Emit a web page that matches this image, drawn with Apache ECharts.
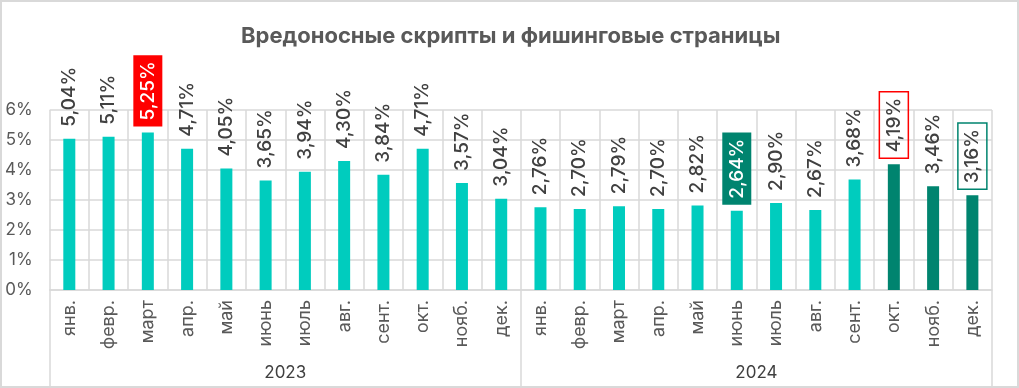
<!DOCTYPE html>
<html><head><meta charset="utf-8">
<script src="https://cdn.jsdelivr.net/npm/echarts@6/dist/echarts.min.js"></script>
<style>
html,body{margin:0;padding:0;background:#fff}
#wrap{position:absolute;left:0;top:0;width:1019px;height:388px;box-sizing:border-box;border:2px solid #d9d9d9;}
#c{width:100%;height:100%}
</style></head>
<body><div id="wrap"><div id="c"></div></div>
<script>
const titleText = 'Вредоносные скрипты и фишинговые страницы';
const years = ['2023', '2024'];
const months = ['янв.', 'февр.', 'март', 'апр.', 'май', 'июнь', 'июль', 'авг.', 'сент.', 'окт.', 'нояб.', 'дек.'];
const values2023 = [5.04, 5.11, 5.25, 4.71, 4.05, 3.65, 3.94, 4.30, 3.84, 4.71, 3.57, 3.04];
const values2024 = [2.76, 2.70, 2.79, 2.70, 2.82, 2.64, 2.90, 2.67, 3.68, 4.19, 3.46, 3.16];
const yTicks = [0, 1, 2, 3, 4, 5, 6];

const TURQ = '#00CCBE';
const DARK = '#00846F';
const RED = '#FF0000';
const GRID = '#d9d9d9';
const TXT = '#404040';
const FONT = 'Inter, "Noto Sans", sans-serif';

const categories = years.flatMap(() => months);
const values = values2023.concat(values2024);
const darkIdx = [21, 22, 23];
const labelStyles = {
  2: {backgroundColor: RED, color: '#fff'},
  17: {backgroundColor: DARK, color: '#fff'},
  21: {borderColor: RED, borderWidth: 1.5},
  23: {borderColor: DARK, borderWidth: 1.5}
};
const fmt = v => v.toFixed(2).replace('.', ',') + '%';

const data = values.map((v, i) => {
  const item = {value: v, itemStyle: {color: darkIdx.includes(i) ? DARK : TURQ}};
  if (labelStyles[i]) item.label = Object.assign({}, labelStyles[i]);
  return item;
});

const chart = echarts.init(document.getElementById('c'));
chart.setOption({
  animation: false,
  textStyle: {fontFamily: FONT},
  title: {
    text: titleText, left: 234, top: 18,
    textStyle: {fontSize: 22, fontWeight: 'bold', color: '#595959', fontFamily: FONT}
  },
  grid: {left: 46, right: 25, top: 108, bottom: 96, containLabel: false},
  xAxis: [{
    type: 'category', data: categories,
    axisLine: {lineStyle: {color: GRID, width: 1.5}},
    axisTick: {show: false},
    splitLine: {show: true, interval: 0, lineStyle: {color: GRID, width: 1.5}},
    axisLabel: {interval: 0, rotate: 90, margin: 10, fontSize: 18, color: '#595959', fontFamily: FONT}
  }, {
    type: 'category', data: years, position: 'bottom',
    axisLine: {show: false},
    axisTick: {show: true, length: 96, lineStyle: {color: GRID, width: 1.5}},
    splitLine: {show: false},
    axisLabel: {margin: 74, fontSize: 17, color: TXT, fontFamily: FONT}
  }],
  yAxis: {
    type: 'value', min: yTicks[0], max: yTicks[yTicks.length - 1], interval: 1,
    axisLine: {show: false}, axisTick: {show: false},
    splitLine: {lineStyle: {color: GRID, width: 1.5}},
    axisLabel: {formatter: '{value}%', fontSize: 17, color: '#595959', margin: 17, fontFamily: FONT}
  },
  series: [{
    type: 'bar', xAxisIndex: 0, data: data, barWidth: 12,
    label: {
      show: true, position: 'top', rotate: 90, align: 'left', verticalAlign: 'middle',
      distance: 6, fontSize: 19, fontWeight: 500, color: TXT, padding: [5, 6], fontFamily: FONT,
      formatter: p => fmt(p.value)
    }
  }]
});
</script>
</body></html>
